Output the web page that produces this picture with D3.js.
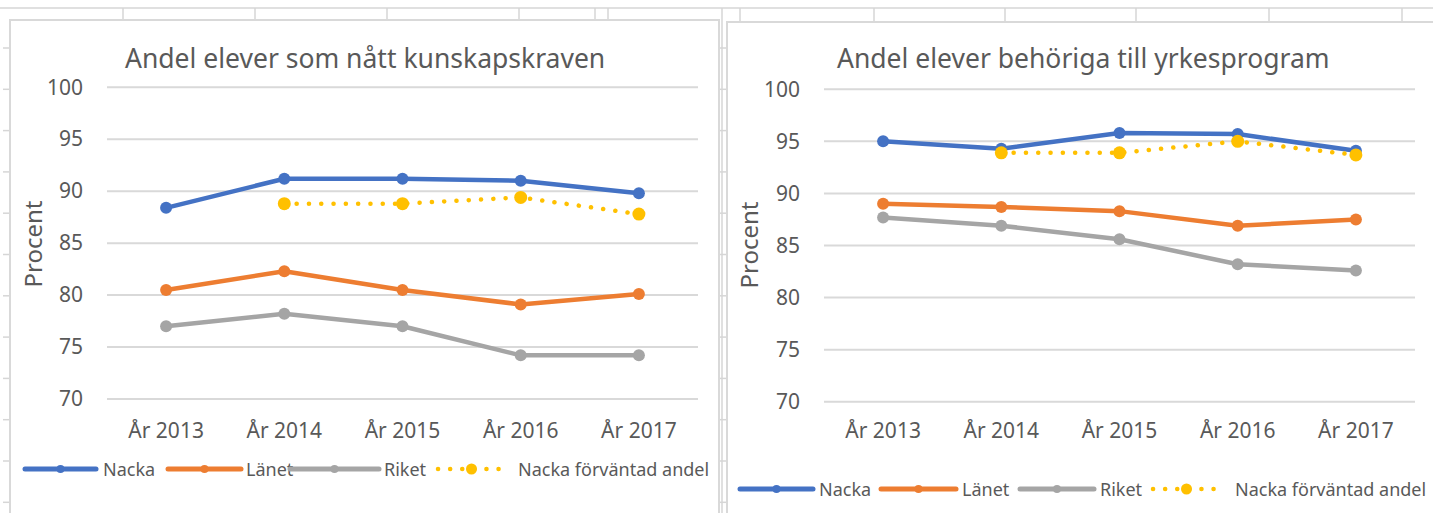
<!DOCTYPE html>
<html lang="sv">

<head>
    <meta charset="UTF-8">
    <title>Andel elever</title>
    <style>
        body { margin: 0; background: #fff; }
        svg { display: block; font-family: "Noto Sans", sans-serif; }
    </style>
</head>

<body>
    <svg id="chart" width="1433" height="513"></svg>

    <script src="https://d3js.org/d3.v7.min.js"></script>
    <script>
        // categories
        const years = ["År 2013", "År 2014", "År 2015", "År 2016", "År 2017"];
        const yTicks = [70, 75, 80, 85, 90, 95, 100];
        const seriesNames = ["Nacka", "Länet", "Riket", "Nacka förväntad andel"];

        // Andel elever som nått kunskapskraven
        const kunskapNacka = [88.4, 91.2, 91.2, 91.0, 89.8];
        const kunskapLanet = [80.5, 82.3, 80.5, 79.1, 80.1];
        const kunskapRiket = [77.0, 78.2, 77.0, 74.2, 74.2];
        const kunskapForvantad = [null, 88.8, 88.8, 89.4, 87.8];

        // Andel elever behöriga till yrkesprogram
        const yrkesNacka = [95.0, 94.3, 95.8, 95.7, 94.1];
        const yrkesLanet = [89.0, 88.7, 88.3, 86.9, 87.5];
        const yrkesRiket = [87.7, 86.9, 85.6, 83.2, 82.6];
        const yrkesForvantad = [null, 93.9, 93.9, 95.0, 93.7];

        const colors = ["#4472C4", "#ED7D31", "#A5A5A5", "#FFC000"];
        const textColor = "#595959";

        const svg = d3.select("#chart");

        // spreadsheet cells behind the charts
        const sheet = svg.append("g").attr("stroke", "#d6d6d6").attr("stroke-width", 1.5);
        sheet.append("line").attr("x1", 0).attr("x2", 1433).attr("y1", 8).attr("y2", 8);
        [123, 255, 387, 519, 595, 608, 740, 874, 1005, 1136, 1269, 1402].forEach(x => {
            sheet.append("line").attr("x1", x).attr("x2", x).attr("y1", 8).attr("y2", 22);
        });
        sheet.append("line").attr("x1", 722).attr("x2", 722).attr("y1", 8).attr("y2", 513);
        d3.range(48, 513, 41.3).forEach(y => {
            sheet.append("line").attr("x1", 3).attr("x2", 9).attr("y1", y).attr("y2", y);
            sheet.append("line").attr("x1", 719).attr("x2", 727).attr("y1", y).attr("y2", y);
        });

        function drawChart(opts) {
            const g = svg.append("g");

            // chart area frame
            g.append("rect")
                .attr("x", opts.frame[0]).attr("y", opts.frame[1])
                .attr("width", opts.frame[2]).attr("height", opts.frame[3])
                .attr("fill", "#fff")
                .attr("stroke", "#d9d9d9")
                .attr("stroke-width", 2);

            const x = d3.scaleBand(years, opts.xRange);
            const cx = d => x(d) + x.bandwidth() / 2;
            const y = d3.scaleLinear([70, 100], opts.yRange);

            // gridlines
            g.append("g")
                .attr("stroke", "#d9d9d9")
                .attr("stroke-width", 2)
                .selectAll("line")
                .data(yTicks)
                .join("line")
                .attr("x1", opts.xRange[0])
                .attr("x2", opts.xRange[1])
                .attr("y1", d => y(d))
                .attr("y2", d => y(d));

            // y axis labels (no domain line)
            const yAxis = d3.axisLeft(y).tickValues(yTicks).tickSize(0).tickPadding(24);
            g.append("g")
                .attr("transform", `translate(${opts.xRange[0]},0)`)
                .call(yAxis)
                .call(a => a.select(".domain").remove())
                .call(a => a.selectAll("text")
                    .attr("fill", textColor)
                    .attr("font-size", 21)
                    .attr("font-family", "Noto Sans"));

            // x axis labels
            const xAxis = d3.axisBottom(x).tickSize(0).tickPadding(0);
            g.append("g")
                .attr("transform", `translate(0,${opts.xLabelY})`)
                .call(xAxis)
                .call(a => a.select(".domain").remove())
                .call(a => a.selectAll("text")
                    .attr("dy", 0)
                    .attr("y", 0)
                    .attr("fill", textColor)
                    .attr("font-size", 21)
                    .attr("font-family", "Noto Sans"));

            g.append("text")
                .attr("transform", `translate(${opts.yTitle[0]},${opts.yTitle[1]}) rotate(-90)`)
                .attr("text-anchor", "middle")
                .attr("dominant-baseline", "central")
                .attr("fill", textColor)
                .attr("font-size", 24)
                .text("Procent");

            g.append("text")
                .attr("x", opts.titlePos[0])
                .attr("y", opts.titlePos[1])
                .attr("fill", textColor)
                .attr("font-size", 26.5)
                .text(opts.title);

            // the series
            opts.series.forEach((values, i) => {
                const pts = values.map((v, j) => [years[j], v]).filter(p => p[1] !== null);
                const dotted = i === 3;
                const line = d3.line().x(p => cx(p[0])).y(p => y(p[1]));
                g.append("path")
                    .datum(pts)
                    .attr("d", line)
                    .attr("fill", "none")
                    .attr("stroke", colors[i])
                    .attr("stroke-width", 4.5)
                    .attr("stroke-linecap", "round")
                    .attr("stroke-linejoin", "round")
                    .attr("stroke-dasharray", dotted ? "0.1 12.2" : null);
                g.append("g")
                    .attr("fill", colors[i])
                    .selectAll("circle")
                    .data(pts)
                    .join("circle")
                    .attr("cx", p => cx(p[0]))
                    .attr("cy", p => y(p[1]))
                    .attr("r", dotted ? 6.5 : 6);
            });

            // legend
            const leg = g.append("g");
            seriesNames.forEach((name, i) => {
                const [x1, x2, tx] = opts.legend[i];
                const ly = opts.legendY;
                const dotted = i === 3;
                leg.append("line")
                    .attr("x1", x1).attr("x2", x2)
                    .attr("y1", ly).attr("y2", ly)
                    .attr("stroke", colors[i])
                    .attr("stroke-width", dotted ? 4.5 : 5)
                    .attr("stroke-linecap", "round")
                    .attr("stroke-dasharray", dotted ? "0.1 12" : null);
                leg.append("circle")
                    .attr("cx", (x1 + x2) / 2)
                    .attr("cy", ly)
                    .attr("r", dotted ? 5.5 : 4)
                    .attr("fill", colors[i]);
                leg.append("text")
                    .attr("x", tx)
                    .attr("y", ly)
                    .attr("dominant-baseline", "central")
                    .attr("fill", textColor)
                    .attr("font-size", 18)
                    .text(name);
            });
        }

        drawChart({
            id: 1,
            title: "Andel elever som nått kunskapskraven",
            frame: [10, 20, 709, 500],
            xRange: [107, 698],
            yRange: [399, 87.3],
            xLabelY: 438,
            yTitle: [32, 244],
            titlePos: [125, 68],
            legendY: 469,
            legend: [[25, 96, 103], [168, 241, 246], [290, 379, 384], [438, 505, 518]],
            series: [kunskapNacka, kunskapLanet, kunskapRiket, kunskapForvantad]
        });

        drawChart({
            id: 2,
            title: "Andel elever behöriga till yrkesprogram",
            frame: [727, 22, 720, 500],
            xRange: [824, 1415],
            yRange: [401.7, 89.3],
            xLabelY: 438,
            yTitle: [748, 245],
            titlePos: [837, 68],
            legendY: 489,
            legend: [[740, 813, 819], [881, 956, 962], [1020, 1094, 1100], [1153, 1220, 1235]],
            series: [yrkesNacka, yrkesLanet, yrkesRiket, yrkesForvantad]
        });
    </script>
</body>

</html>
